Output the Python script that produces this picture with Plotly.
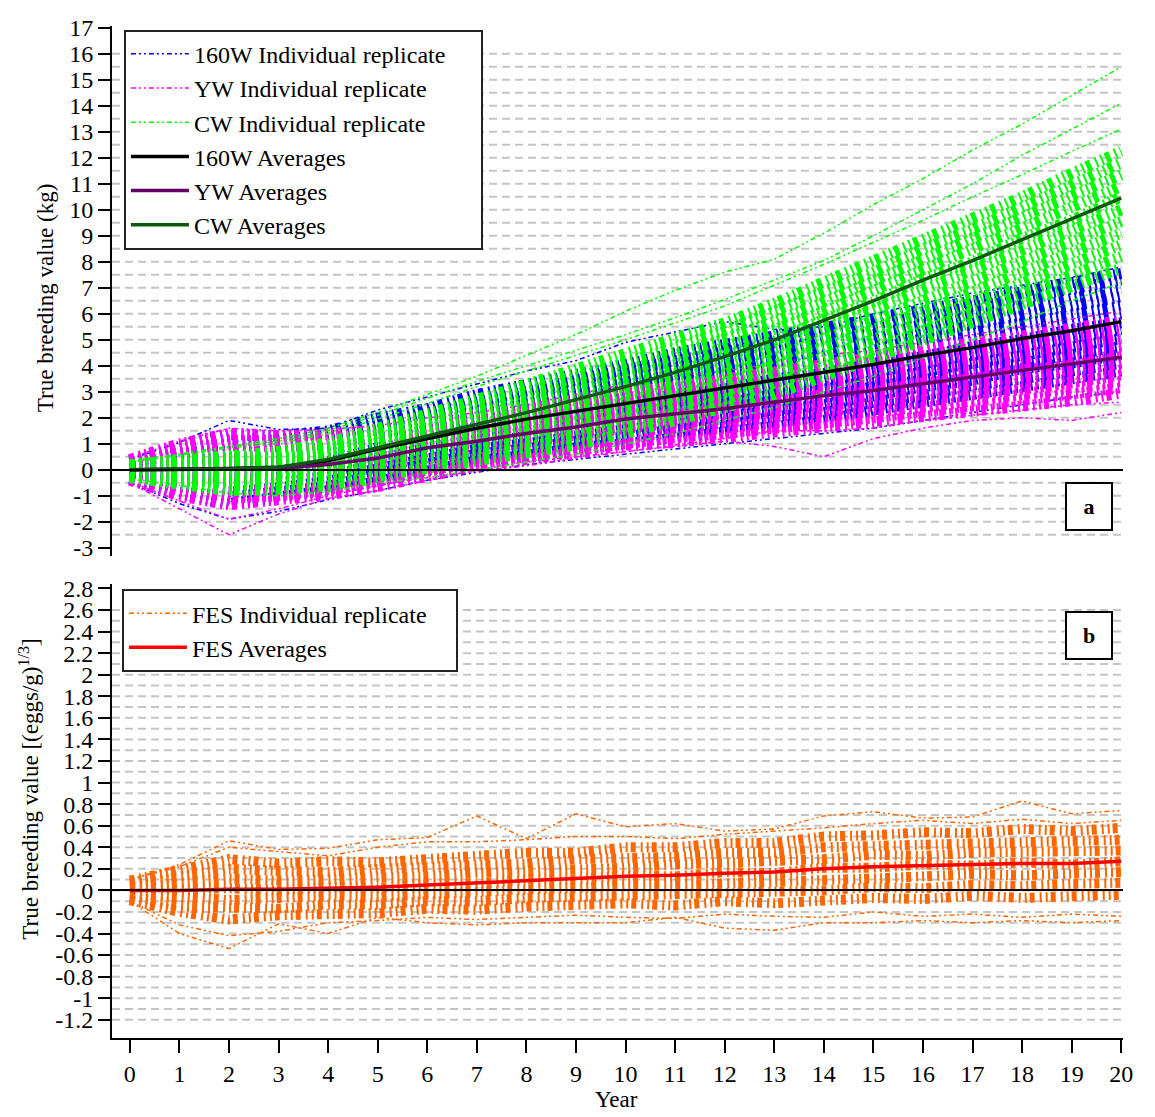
import plotly.graph_objects as go

W, H = 1155, 1117

years = list(range(21))

# ---------------- Panel a : averages ----------------
avg_160w = [0, 0.02, 0.05, 0.1, 0.35, 0.8, 1.2, 1.6, 1.95, 2.25, 2.55, 2.85, 3.15, 3.45, 3.75, 4.05, 4.4, 4.7, 5.05, 5.35, 5.7]
avg_yw = [0, 0.02, 0.03, 0.05, 0.2, 0.45, 0.85, 1.1, 1.4, 1.65, 1.95, 2.15, 2.35, 2.6, 2.85, 3.05, 3.3, 3.55, 3.8, 4.05, 4.33]
avg_cw = [0, 0.02, 0.03, 0.1, 0.4, 0.85, 1.3, 1.75, 2.2, 2.7, 3.2, 3.75, 4.35, 5.0, 5.75, 6.5, 7.3, 8.05, 8.85, 9.65, 10.45]

# ---------------- Panel a : individual replicates (dense core, low -> high) ----------------
rep_160w_core = [
    [-0.35, -0.9, -1.3, -1.1, -0.8, -0.45, 0.0, 0.35, 0.55, 0.85, 1.0, 1.2, 1.5, 1.7, 1.9, 2.3, 2.55, 2.9, 3.2, 3.5, 3.8],
    [-0.3, -0.75, -1.05, -0.9, -0.65, -0.15, 0.2, 0.6, 0.8, 1.1, 1.25, 1.55, 1.7, 2.05, 2.2, 2.6, 2.85, 3.25, 3.5, 3.8, 4.1],
    [-0.25, -0.55, -0.85, -0.7, -0.45, 0.05, 0.4, 0.8, 1.0, 1.3, 1.55, 1.75, 2.05, 2.3, 2.5, 2.9, 3.2, 3.45, 3.9, 4.1, 4.45],
    [-0.2, -0.4, -0.6, -0.5, -0.25, 0.2, 0.65, 0.95, 1.3, 1.5, 1.8, 2.0, 2.3, 2.65, 2.8, 3.2, 3.45, 3.85, 4.1, 4.45, 4.75],
    [-0.1, -0.3, -0.4, -0.3, 0.0, 0.4, 0.85, 1.15, 1.5, 1.8, 2.0, 2.35, 2.55, 2.9, 3.1, 3.45, 3.85, 4.1, 4.4, 4.75, 5.05],
    [-0.05, -0.15, -0.15, -0.1, 0.15, 0.6, 1.0, 1.4, 1.7, 2.05, 2.3, 2.6, 2.85, 3.2, 3.4, 3.75, 4.1, 4.4, 4.7, 5.05, 5.4],
    [0.05, 0.05, 0.0, 0.15, 0.3, 0.85, 1.15, 1.65, 1.9, 2.3, 2.5, 2.9, 3.1, 3.5, 3.7, 4.1, 4.35, 4.75, 5.0, 5.4, 5.65],
    [0.05, 0.15, 0.25, 0.3, 0.55, 1.0, 1.4, 1.8, 2.2, 2.5, 2.8, 3.1, 3.45, 3.75, 4.05, 4.35, 4.7, 5.0, 5.35, 5.65, 6.0],
    [0.1, 0.35, 0.5, 0.5, 0.75, 1.2, 1.55, 2.05, 2.4, 2.7, 3.1, 3.35, 3.75, 4.0, 4.4, 4.6, 5.05, 5.3, 5.6, 6.0, 6.3],
    [0.2, 0.45, 0.7, 0.7, 0.95, 1.4, 1.8, 2.2, 2.65, 2.95, 3.35, 3.65, 4.0, 4.3, 4.65, 4.95, 5.3, 5.6, 5.95, 6.3, 6.65],
    [0.25, 0.6, 0.95, 0.9, 1.15, 1.55, 2.0, 2.4, 2.9, 3.2, 3.6, 3.9, 4.3, 4.55, 5.0, 5.2, 5.6, 5.95, 6.2, 6.6, 6.95],
    [0.3, 0.75, 1.1, 1.15, 1.35, 1.75, 2.2, 2.65, 3.1, 3.45, 3.85, 4.2, 4.55, 4.9, 5.25, 5.55, 5.9, 6.2, 6.55, 6.95, 7.3],
    [0.35, 0.9, 1.35, 1.3, 1.5, 2.0, 2.35, 2.9, 3.25, 3.7, 4.05, 4.5, 4.8, 5.1, 5.5, 5.8, 6.15, 6.5, 6.8, 7.2, 7.55],
]
rep_160w_outer = [
    [0.4, 1.05, 1.9, 1.55, 1.6, 2.3, 2.8, 3.3, 3.8, 4.2, 4.9, 5.3, 5.7, 5.4, 5.5, 6.0, 6.4, 6.8, 7.1, 7.4, 7.8],
    [-0.5, -1.3, -1.9, -1.6, -1.15, -0.8, -0.4, -0.1, 0.2, 0.4, 0.6, 0.8, 1.0, 1.2, 1.4, 1.6, 1.9, 2.2, 2.5, 2.8, 3.0],
]

rep_yw_core = [
    [-0.4, -1.0, -1.35, -1.2, -0.95, -0.65, -0.2, 0.15, 0.4, 0.65, 0.95, 1.05, 1.25, 1.4, 1.65, 1.8, 2.0, 2.2, 2.45, 2.65, 2.95],
    [-0.35, -0.8, -1.1, -1.0, -0.75, -0.45, 0.0, 0.25, 0.6, 0.8, 1.1, 1.25, 1.4, 1.65, 1.8, 2.0, 2.25, 2.4, 2.7, 2.9, 3.15],
    [-0.25, -0.65, -0.9, -0.75, -0.6, -0.25, 0.15, 0.45, 0.75, 1.0, 1.25, 1.45, 1.6, 1.85, 2.0, 2.25, 2.4, 2.65, 2.9, 3.1, 3.4],
    [-0.2, -0.5, -0.65, -0.55, -0.4, -0.1, 0.35, 0.6, 0.9, 1.15, 1.45, 1.6, 1.8, 2.0, 2.25, 2.4, 2.65, 2.9, 3.1, 3.35, 3.65],
    [-0.15, -0.3, -0.45, -0.35, -0.2, 0.1, 0.5, 0.8, 1.05, 1.35, 1.6, 1.8, 1.95, 2.25, 2.45, 2.6, 2.9, 3.1, 3.35, 3.6, 3.85],
    [-0.05, -0.15, -0.2, -0.15, 0.0, 0.25, 0.7, 0.95, 1.25, 1.5, 1.75, 2.0, 2.15, 2.4, 2.65, 2.85, 3.1, 3.35, 3.55, 3.8, 4.1],
    [0.0, 0.05, 0.05, 0.0, 0.25, 0.4, 0.9, 1.05, 1.45, 1.6, 2.0, 2.1, 2.4, 2.55, 2.9, 3.0, 3.35, 3.5, 3.85, 4.0, 4.35],
    [0.05, 0.2, 0.25, 0.25, 0.4, 0.65, 1.0, 1.3, 1.55, 1.85, 2.1, 2.35, 2.55, 2.8, 3.05, 3.25, 3.5, 3.8, 4.0, 4.3, 4.55],
    [0.15, 0.35, 0.5, 0.45, 0.6, 0.8, 1.2, 1.45, 1.7, 2.0, 2.3, 2.5, 2.75, 3.0, 3.25, 3.45, 3.75, 4.0, 4.25, 4.5, 4.8],
    [0.2, 0.5, 0.7, 0.7, 0.8, 1.0, 1.35, 1.6, 1.9, 2.15, 2.45, 2.7, 2.9, 3.2, 3.45, 3.7, 3.95, 4.2, 4.5, 4.75, 5.05],
    [0.25, 0.7, 0.95, 0.9, 1.0, 1.15, 1.55, 1.75, 2.05, 2.3, 2.65, 2.85, 3.1, 3.4, 3.65, 3.9, 4.15, 4.45, 4.7, 5.0, 5.25],
    [0.35, 0.85, 1.15, 1.1, 1.2, 1.35, 1.7, 1.95, 2.2, 2.5, 2.8, 3.05, 3.3, 3.55, 3.85, 4.1, 4.4, 4.65, 4.95, 5.2, 5.5],
    [0.4, 1.0, 1.4, 1.3, 1.35, 1.55, 1.9, 2.1, 2.4, 2.65, 3.0, 3.2, 3.5, 3.75, 4.05, 4.3, 4.6, 4.9, 5.15, 5.45, 5.75],
]
rep_yw_outer = [
    [-0.5, -1.5, -2.5, -1.7, -1.1, -0.8, -0.4, 0.0, 0.3, 0.5, 0.7, 0.9, 1.1, 0.9, 0.5, 1.2, 1.6, 1.9, 2.0, 1.9, 2.2],
    [-0.45, -1.2, -1.9, -1.5, -1.0, -0.6, -0.3, -0.05, 0.15, 0.45, 0.7, 0.95, 1.2, 1.5, 1.5, 1.6, 1.9, 2.1, 2.3, 2.5, 2.6],
    [0.45, 1.1, 1.6, 1.5, 1.55, 1.7, 2.0, 2.2, 2.5, 2.9, 3.3, 3.6, 3.8, 4.1, 4.4, 4.6, 4.9, 5.2, 5.5, 5.8, 6.1],
]

rep_cw_core = [
    [-0.3, -0.5, -0.8, -0.75, -0.6, -0.25, 0.05, 0.3, 0.6, 0.95, 1.4, 1.85, 2.4, 2.9, 3.6, 4.2, 5.0, 5.6, 6.35, 7.0, 7.75],
    [-0.25, -0.45, -0.65, -0.6, -0.45, -0.05, 0.25, 0.55, 0.85, 1.3, 1.7, 2.15, 2.7, 3.3, 3.95, 4.6, 5.35, 6.05, 6.75, 7.45, 8.2],
    [-0.2, -0.35, -0.5, -0.5, -0.25, 0.15, 0.45, 0.8, 1.1, 1.55, 2.0, 2.5, 3.0, 3.65, 4.3, 5.0, 5.7, 6.45, 7.15, 7.9, 8.65],
    [-0.15, -0.25, -0.4, -0.35, -0.1, 0.3, 0.65, 1.05, 1.4, 1.85, 2.3, 2.8, 3.35, 4.0, 4.65, 5.4, 6.1, 6.85, 7.6, 8.35, 9.1],
    [-0.1, -0.15, -0.25, -0.2, 0.05, 0.5, 0.9, 1.25, 1.65, 2.15, 2.6, 3.1, 3.7, 4.3, 5.0, 5.75, 6.5, 7.25, 8.0, 8.8, 9.55],
    [-0.05, -0.05, -0.1, -0.05, 0.25, 0.65, 1.1, 1.5, 1.95, 2.4, 2.9, 3.45, 4.0, 4.65, 5.4, 6.1, 6.9, 7.65, 8.45, 9.2, 10.0],
    [0.0, 0.05, 0.0, 0.15, 0.4, 0.8, 1.35, 1.7, 2.25, 2.65, 3.25, 3.7, 4.4, 4.95, 5.8, 6.45, 7.35, 8.0, 8.9, 9.6, 10.5],
    [0.05, 0.1, 0.15, 0.25, 0.55, 1.05, 1.5, 2.0, 2.45, 3.0, 3.5, 4.05, 4.7, 5.35, 6.1, 6.9, 7.7, 8.45, 9.25, 10.1, 10.9],
    [0.1, 0.2, 0.3, 0.4, 0.75, 1.2, 1.7, 2.25, 2.75, 3.25, 3.8, 4.4, 5.0, 5.7, 6.45, 7.25, 8.1, 8.85, 9.7, 10.5, 11.35],
    [0.15, 0.3, 0.45, 0.55, 0.9, 1.4, 1.95, 2.45, 3.0, 3.55, 4.1, 4.7, 5.35, 6.05, 6.85, 7.6, 8.5, 9.25, 10.1, 10.95, 11.8],
    [0.2, 0.4, 0.55, 0.7, 1.05, 1.55, 2.15, 2.7, 3.3, 3.85, 4.4, 5.0, 5.65, 6.4, 7.2, 8.0, 8.85, 9.7, 10.5, 11.4, 12.25],
]
rep_cw_outer = [
    [0.35, 0.6, 0.9, 1.2, 1.6, 2.2, 2.9, 3.6, 4.4, 5.2, 6.1, 6.9, 7.6, 8.1, 9.1, 10.2, 11.2, 12.3, 13.3, 14.4, 15.5],
    [0.3, 0.6, 0.9, 1.1, 1.5, 2.1, 2.75, 3.4, 4.0, 4.6, 5.2, 5.85, 6.55, 7.3, 8.05, 9.0, 10.0, 11.0, 12.1, 13.1, 14.1],
    [0.3, 0.55, 0.85, 1.0, 1.4, 1.95, 2.55, 3.2, 3.8, 4.4, 5.0, 5.65, 6.3, 7.1, 7.9, 8.75, 9.6, 10.5, 11.35, 12.25, 13.1],
    [-0.35, -0.6, -0.9, -1.0, -0.85, -0.5, -0.3, 0.0, 0.3, 0.6, 1.0, 1.4, 1.9, 2.4, 3.0, 3.6, 4.3, 5.0, 5.7, 6.5, 7.2],
]

# ---------------- Panel b ----------------
avg_fes = [0, 0.0, 0.01, 0.01, 0.02, 0.03, 0.05, 0.07, 0.09, 0.11, 0.13, 0.14, 0.16, 0.17, 0.2, 0.22, 0.23, 0.24, 0.25, 0.25, 0.27]
rep_fes_core = [
    [-0.09, -0.2, -0.27, -0.23, -0.22, -0.21, -0.17, -0.18, -0.15, -0.14, -0.12, -0.14, -0.1, -0.12, -0.09, -0.07, -0.08, -0.05, -0.07, -0.05, -0.04],
    [-0.06, -0.14, -0.16, -0.17, -0.13, -0.13, -0.1, -0.1, -0.07, -0.06, -0.05, -0.03, -0.02, -0.01, 0.0, 0.03, 0.02, 0.05, 0.04, 0.06, 0.07],
    [-0.03, -0.06, -0.09, -0.07, -0.05, -0.06, -0.03, 0.0, 0.01, 0.02, 0.05, 0.05, 0.06, 0.09, 0.1, 0.11, 0.13, 0.15, 0.14, 0.16, 0.17],
    [0.0, 0.01, 0.02, 0.0, 0.03, 0.02, 0.06, 0.06, 0.1, 0.1, 0.14, 0.13, 0.17, 0.16, 0.21, 0.21, 0.24, 0.23, 0.26, 0.24, 0.27],
    [0.03, 0.07, 0.11, 0.09, 0.1, 0.12, 0.13, 0.16, 0.17, 0.2, 0.21, 0.24, 0.25, 0.27, 0.29, 0.33, 0.32, 0.35, 0.35, 0.36, 0.37],
    [0.06, 0.13, 0.2, 0.18, 0.17, 0.2, 0.21, 0.24, 0.25, 0.29, 0.3, 0.31, 0.35, 0.35, 0.4, 0.41, 0.44, 0.43, 0.46, 0.45, 0.47],
    [0.09, 0.2, 0.29, 0.25, 0.27, 0.26, 0.29, 0.3, 0.35, 0.35, 0.4, 0.4, 0.44, 0.44, 0.5, 0.51, 0.54, 0.53, 0.57, 0.55, 0.58],
]
rep_fes_outer = [
    [0.1, 0.24, 0.46, 0.38, 0.39, 0.47, 0.49, 0.69, 0.48, 0.71, 0.59, 0.62, 0.55, 0.57, 0.69, 0.73, 0.67, 0.68, 0.83, 0.71, 0.74],
    [0.1, 0.22, 0.4, 0.36, 0.32, 0.4, 0.45, 0.45, 0.47, 0.5, 0.5, 0.48, 0.52, 0.55, 0.58, 0.62, 0.65, 0.62, 0.66, 0.62, 0.65],
    [-0.1, -0.4, -0.54, -0.31, -0.4, -0.25, -0.3, -0.32, -0.3, -0.3, -0.3, -0.25, -0.35, -0.37, -0.3, -0.3, -0.28, -0.3, -0.28, -0.3, -0.28],
    [-0.1, -0.32, -0.42, -0.38, -0.3, -0.28, -0.25, -0.27, -0.25, -0.23, -0.25, -0.26, -0.22, -0.24, -0.25, -0.2, -0.24, -0.22, -0.25, -0.22, -0.24],
]

# ---------------- tick labels ----------------
top_tick_text = ["-3", "-2", "-1", "0", "1", "2", "3", "4", "5", "6", "7", "8", "9", "10",
                 "11", "12", "13", "14", "15", "16", "17"]
bot_tick_text = ["-1.2", "-1", "-0.8", "-0.6", "-0.4", "-0.2", "0", "0.2", "0.4", "0.6", "0.8", "1",
                 "1.2", "1.4", "1.6", "1.8", "2", "2.2", "2.4", "2.6", "2.8"]
x_tick_text = [str(y) for y in years]

# ---------------- styling ----------------
FONT = "Liberation Serif"
THICK_DASH = "5px,5px,2px,4px,2px,3px"
THIN_DASH = "5px,3px,2px,3px,2px,3px"
NB = "\u00a0"

fig = go.Figure()


def add_reps(core, outer, color, name, xa, ya, rank, legend, core_w):
    for row in core:
        fig.add_trace(go.Scatter(x=years, y=row, mode="lines", xaxis=xa, yaxis=ya,
                                 line=dict(color=color, width=core_w, dash=THICK_DASH),
                                 showlegend=False, hoverinfo="skip"))
    for i, row in enumerate(outer):
        fig.add_trace(go.Scatter(x=years, y=row, mode="lines", xaxis=xa, yaxis=ya,
                                 line=dict(color=color, width=1.5, dash=THIN_DASH),
                                 name=name, showlegend=(i == 0), legendrank=rank,
                                 legend=legend, hoverinfo="skip"))


add_reps(rep_160w_core, rep_160w_outer, "#0000ff", "160W Individual replicate" + NB * 5, "x", "y", 1, "legend", 11)
add_reps(rep_yw_core, rep_yw_outer, "#ff00ff", "YW Individual replicate", "x", "y", 2, "legend", 11)
add_reps(rep_cw_core, rep_cw_outer, "#00ff00", "CW Individual replicate", "x", "y", 3, "legend", 11)

for vals, color, name, rank in [(avg_160w, "#000000", "160W Averages", 4),
                                (avg_yw, "#660066", "YW Averages", 5),
                                (avg_cw, "#0b5a0b", "CW Averages", 6)]:
    fig.add_trace(go.Scatter(x=years, y=vals, mode="lines", xaxis="x", yaxis="y",
                             line=dict(color=color, width=3.5), name=name,
                             legendrank=rank, legend="legend", hoverinfo="skip"))

add_reps(rep_fes_core, rep_fes_outer, "#ff6600", "FES Individual replicate" + NB * 4, "x2", "y2", 1, "legend2", 10)
fig.add_trace(go.Scatter(x=years, y=avg_fes, mode="lines", xaxis="x2", yaxis="y2",
                         line=dict(color="#ff0000", width=3.5), name="FES Averages",
                         legendrank=2, legend="legend2", hoverinfo="skip"))

# ---------------- geometry (pixels -> paper) ----------------
X_LEFT, X_RIGHT = 113, 1133
TOP_A, BOT_A = 15, 553
TOP_B, BOT_B = 582, 1043
xdom = [X_LEFT / W, X_RIGHT / W]
ydom_a = [1 - BOT_A / H, 1 - TOP_A / H]
ydom_b = [1 - BOT_B / H, 1 - TOP_B / H]
xrange_ = [-0.36, 20.04]
yrange_a = [-3.3, 17.08]
yrange_b = [-1.37, 2.84]

top_tick_vals = [float(t) for t in top_tick_text]
bot_tick_vals = [float(t) for t in bot_tick_text]
grid_a = [k * 0.5 for k in range(-5, 33)]
grid_b = [round(k * 0.1, 2) for k in range(-12, 27)]

tickfont = dict(family=FONT, size=24, color="black")

grid_line = dict(color="#c4c4c4", width=2, dash="8px,5px")
for g in grid_a:
    fig.add_shape(type="line", xref="x domain", yref="y", x0=0, x1=1, y0=g, y1=g,
                  layer="below", line=grid_line)
for g in grid_b:
    fig.add_shape(type="line", xref="x2 domain", yref="y2", x0=0, x1=1, y0=g, y1=g,
                  layer="below", line=grid_line)

fig.update_layout(
    width=W, height=H, margin=dict(l=0, r=0, t=0, b=0), autosize=False,
    paper_bgcolor="white", plot_bgcolor="rgba(0,0,0,0)",
    font=dict(family=FONT, color="black"),
    xaxis=dict(domain=xdom, range=xrange_, anchor="y", visible=False),
    yaxis=dict(domain=ydom_a, range=yrange_a, anchor="x", tickvals=top_tick_vals, ticktext=top_tick_text,
               ticks="outside", ticklen=12, tickwidth=2, tickcolor="black", tickfont=tickfont,
               showline=True, linewidth=2, linecolor="black", showgrid=False,
               zeroline=True, zerolinecolor="black", zerolinewidth=2),
    xaxis2=dict(domain=xdom, range=xrange_, anchor="y2", tickvals=years, ticktext=x_tick_text,
                ticks="outside", ticklen=13, tickwidth=2, tickcolor="black", tickfont=tickfont,
                showline=True, linewidth=2, linecolor="black", showgrid=False, zeroline=False),
    yaxis2=dict(domain=ydom_b, range=yrange_b, anchor="x2", tickvals=bot_tick_vals, ticktext=bot_tick_text,
                ticks="outside", ticklen=12, tickwidth=2, tickcolor="black", tickfont=tickfont,
                showline=True, linewidth=2, linecolor="black", showgrid=False,
                zeroline=True, zerolinecolor="black", zerolinewidth=1.5),
    legend=dict(x=125 / W, y=1 - 19 / H, xanchor="left", yanchor="top", bgcolor="white",
                bordercolor="#222222", borderwidth=2, itemwidth=58,
                font=dict(family=FONT, size=24, color="black"), tracegroupgap=0),
    legend2=dict(x=123 / W, y=1 - 587 / H, xanchor="left", yanchor="top", bgcolor="white",
                 bordercolor="#222222", borderwidth=2, itemwidth=58,
                 font=dict(family=FONT, size=24, color="black"), tracegroupgap=0),
    showlegend=True,
)

try:
    fig.update_layout(yaxis_zerolinelayer="above traces", yaxis2_zerolinelayer="above traces")
except Exception:
    pass

ann_font = dict(family=FONT, size=23, color="black")
fig.add_annotation(text="True breeding value (kg)", xref="paper", yref="paper",
                   x=46 / W, y=1 - 292 / H, xanchor="center", yanchor="middle",
                   textangle=-90, showarrow=False, font=ann_font)
fig.add_annotation(text="True breeding value [(eggs/g)<sup>1/3</sup>]", xref="paper", yref="paper",
                   x=30 / W, y=1 - 790 / H, xanchor="center", yanchor="middle",
                   textangle=-90, showarrow=False, font=ann_font)
fig.add_annotation(text="Year", xref="paper", yref="paper", x=622 / W, y=1 - 1105 / H,
                   xanchor="center", yanchor="middle", showarrow=False, font=ann_font)
for lab, cy in [("a", 503), ("b", 634)]:
    fig.add_annotation(text="<b>%s</b>" % lab, xref="paper", yref="paper", x=1099 / W, y=1 - cy / H,
                       xanchor="center", yanchor="middle", showarrow=False,
                       font=dict(family=FONT, size=22, color="black"), borderpad=1,
                       bordercolor="black", borderwidth=2, bgcolor="white", width=42, height=43)

PAGE_JS = (
    "var de=document.documentElement;de.style.margin='0';de.style.padding='0';de.style.overflow='hidden';"
    "de.style.height='%dpx';" % H +
    "var b=document.body;b.style.margin='0';b.style.padding='0';b.style.overflow='hidden';"
    "b.style.height='%dpx';" % H +
    "var gd=document.getElementById('{plot_id}');gd.style.position='fixed';gd.style.left='0px';gd.style.top='0px';"
)

fig.write_html("out.html", config={"displayModeBar": False}, post_script=PAGE_JS)
